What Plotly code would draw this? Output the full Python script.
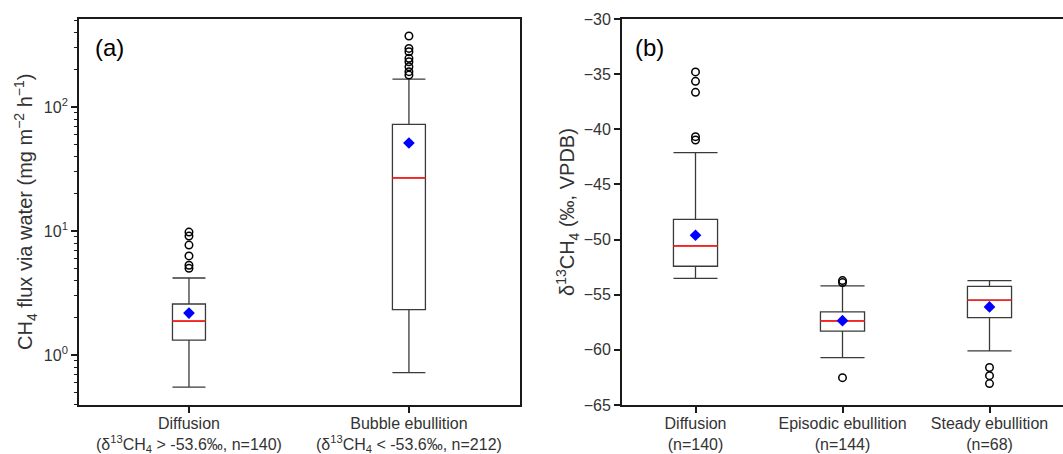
import plotly.graph_objects as go

# ---------------- Data ----------------
# Panel (a): CH4 flux via water (mg m-2 h-1), log scale
a_categories = ["Diffusion<br>(δ<sup>13</sup>CH<sub>4</sub> > -53.6‰, n=140)",
                "Bubble ebullition<br>(δ<sup>13</sup>CH<sub>4</sub> < -53.6‰, n=212)"]
a_q1 = [1.32, 2.32]
a_median = [1.88, 26.8]
a_q3 = [2.58, 72.5]
a_low = [0.552, 0.72]
a_high = [4.18, 168]
a_mean = [2.18, 51.3]
a_outliers = [
    [5.0, 5.3, 6.3, 7.7, 9.1, 9.8],
    [181, 193, 211, 232, 247, 279, 297, 374],
]

# Panel (b): δ13CH4 (‰, VPDB)
b_categories = ["Diffusion<br>(n=140)", "Episodic ebullition<br>(n=144)", "Steady ebullition<br>(n=68)"]
b_q1 = [-52.42, -58.31, -57.08]
b_median = [-50.58, -57.38, -55.50]
b_q3 = [-48.16, -56.56, -54.24]
b_low = [-53.51, -60.71, -60.10]
b_high = [-42.12, -54.20, -53.72]
b_mean = [-49.61, -57.35, -56.11]
b_outliers = [
    [-34.8, -35.65, -36.65, -40.67, -40.97],
    [-53.72, -53.9, -62.52],
    [-61.6, -62.34, -63.06],
]

a_ticks = [1, 10, 100]
a_ticktext = ["10<sup>0</sup>", "10<sup>1</sup>", "10<sup>2</sup>"]
b_ticks = [-30, -35, -40, -45, -50, -55, -60, -65]

a_ytitle = "CH<sub>4</sub> flux via water (mg m<sup>−2</sup> h<sup>−1</sup>)"
b_ytitle = "δ<sup>13</sup>CH<sub>4</sub> (‰, VPDB)"

# ---------------- Style ----------------
FONT = "Liberation Sans, Arial, sans-serif"
TXT = "#333333"
AXC = "#1a1a1a"
BOXC = "#3a3a3a"

fig = go.Figure()


def add_panel(xa, ya, cats, q1, med, q3, low, high, mean, outl, width):
    xs = list(range(len(cats)))
    fig.add_trace(go.Box(
        x=xs, q1=q1, median=med, q3=q3, lowerfence=low, upperfence=high,
        width=width, whiskerwidth=1.0, fillcolor="white",
        line=dict(color=BOXC, width=1.3), boxpoints=False,
        xaxis=xa, yaxis=ya, showlegend=False, hoverinfo="skip"))
    # median (red line, drawn as a flat box)
    fig.add_trace(go.Box(
        x=xs, q1=med, median=med, q3=med, lowerfence=med, upperfence=med,
        width=width, whiskerwidth=1.0, fillcolor="rgba(0,0,0,0)",
        line=dict(color="#ff2020", width=1.7), boxpoints=False,
        xaxis=xa, yaxis=ya, showlegend=False, hoverinfo="skip"))
    # outliers
    ox, oy = [], []
    for i, vals in enumerate(outl):
        ox += [i] * len(vals)
        oy += vals
    fig.add_trace(go.Scatter(
        x=ox, y=oy, mode="markers",
        marker=dict(symbol="circle-open", size=7.5, color="black", line=dict(width=1.5)),
        xaxis=xa, yaxis=ya, showlegend=False, hoverinfo="skip"))
    # mean
    fig.add_trace(go.Scatter(
        x=xs, y=mean, mode="markers",
        marker=dict(symbol="diamond", size=9, color="blue", line=dict(width=0)),
        xaxis=xa, yaxis=ya, showlegend=False, hoverinfo="skip"))


add_panel("x", "y", a_categories, a_q1, a_median, a_q3, a_low, a_high, a_mean, a_outliers, 0.15)
add_panel("x2", "y2", b_categories, b_q1, b_median, b_q3, b_low, b_high, b_mean, b_outliers, 0.30)

W, H = 1063, 454
yd = [1 - 405 / H, 1 - 19 / H]

minor_vals = [0.4, 0.5, 0.6, 0.7, 0.8, 0.9] + [d * m for d in (1, 10, 100) for m in range(2, 10)]
minor_vals = [v for v in minor_vals if v <= 500]

axis_common = dict(showline=True, linecolor=AXC, linewidth=1.8, ticks="outside",
                   ticklen=6, tickwidth=1.5, tickcolor=AXC, showgrid=False, zeroline=False,
                   automargin=False)
xfont = dict(family=FONT, size=16, color=TXT)
yfont = dict(family=FONT, size=16, color=TXT)

fig.update_layout(
    width=W, height=H, margin=dict(l=0, r=0, t=0, b=0),
    paper_bgcolor="white", plot_bgcolor="white", boxmode="overlay",
    font=dict(family=FONT, size=16, color=TXT),
    xaxis=dict(domain=[79 / W, 520 / W], range=[-0.5, 1.505], tickvals=[0, 1],
               ticktext=a_categories, mirror=True, anchor="y", tickfont=xfont,
               ticklabelstandoff=-3, **axis_common),
    yaxis=dict(domain=yd, type="log", range=[-0.403, 2.71], tickvals=a_ticks,
               ticktext=a_ticktext, mirror=True, anchor="x", tickfont=yfont,
               minor=dict(tickvals=minor_vals, ticks="outside", ticklen=3.5,
                          tickwidth=1.3, tickcolor=AXC, showgrid=False),
               **axis_common),
    xaxis2=dict(domain=[622 / W, 1.0], range=[-0.5, 2.5], tickvals=[0, 1, 2],
                ticktext=b_categories, mirror=True, anchor="y2", tickfont=xfont,
                ticklabelstandoff=-3, **axis_common),
    yaxis2=dict(domain=yd, range=[-65, -30], tickvals=b_ticks, mirror=False, anchor="x2",
                tickfont=yfont, **axis_common),
    annotations=[
        dict(text="(a)", x=93 / W, y=1 - 47 / H, xref="paper", yref="paper",
             xanchor="left", yanchor="middle", showarrow=False,
             font=dict(family=FONT, size=24, color="black")),
        dict(text="(b)", x=633 / W, y=1 - 47 / H, xref="paper", yref="paper",
             xanchor="left", yanchor="middle", showarrow=False,
             font=dict(family=FONT, size=24, color="black")),
        dict(text=a_ytitle, x=25 / W, y=1 - 212 / H, xref="paper", yref="paper",
             xanchor="center", yanchor="middle", textangle=-90, showarrow=False,
             font=dict(family=FONT, size=20, color=TXT)),
        dict(text=b_ytitle, x=567 / W, y=1 - 212 / H, xref="paper", yref="paper",
             xanchor="center", yanchor="middle", textangle=-90, showarrow=False,
             font=dict(family=FONT, size=20, color=TXT)),
    ],
)

fig.write_html("out.html")
